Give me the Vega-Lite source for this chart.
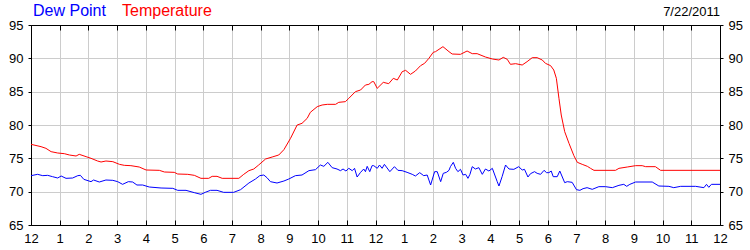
{
  "$schema": "https://vega.github.io/schema/vega-lite/v6.json",
  "width": 689,
  "height": 200,
  "autosize": "none",
  "padding": {"left": 31, "top": 25, "right": 30, "bottom": 25},
  "background": "white",
  "config": {
    "font": "Liberation Sans",
    "view": {"stroke": "black", "strokeWidth": 1},
    "axis": {"labelFontSize": 13, "labelColor": "black", "domainColor": "black", "tickColor": "black", "gridColor": "#cccccc", "gridOpacity": 1, "labelFont": "Liberation Sans"}
  },
  "title": {"text": "7/22/2011", "anchor": "end", "frame": "group", "fontSize": 13, "fontWeight": "normal", "color": "black", "font": "Liberation Sans", "offset": -16},
  "datasets": {
    "temp": [
      {"hour": 0, "value": 77.1}, {"hour": 0.35, "value": 76.75}, {"hour": 0.52, "value": 76.5}, {"hour": 0.7, "value": 76.0}, {"hour": 0.93, "value": 75.8},
      {"hour": 1.16, "value": 75.7}, {"hour": 1.34, "value": 75.5}, {"hour": 1.57, "value": 75.35}, {"hour": 1.68, "value": 75.6}, {"hour": 1.92, "value": 75.25},
      {"hour": 2.09, "value": 75.0}, {"hour": 2.32, "value": 74.6}, {"hour": 2.44, "value": 74.45}, {"hour": 2.61, "value": 74.6}, {"hour": 2.85, "value": 74.5},
      {"hour": 3.08, "value": 74.1}, {"hour": 3.25, "value": 73.95}, {"hour": 3.48, "value": 73.9}, {"hour": 3.77, "value": 73.7}, {"hour": 4.01, "value": 73.25},
      {"hour": 4.47, "value": 73.2}, {"hour": 4.65, "value": 72.95}, {"hour": 4.99, "value": 72.9}, {"hour": 5.11, "value": 72.65}, {"hour": 5.46, "value": 72.6},
      {"hour": 5.69, "value": 72.45}, {"hour": 5.92, "value": 72.0}, {"hour": 6.19, "value": 72.0}, {"hour": 6.31, "value": 72.3}, {"hour": 6.48, "value": 72.3},
      {"hour": 6.66, "value": 72.0}, {"hour": 7.24, "value": 72.0}, {"hour": 7.41, "value": 72.6}, {"hour": 7.59, "value": 73.15}, {"hour": 7.76, "value": 73.4},
      {"hour": 7.93, "value": 74.0}, {"hour": 8.17, "value": 74.9}, {"hour": 8.4, "value": 75.2}, {"hour": 8.63, "value": 75.5}, {"hour": 8.81, "value": 76.3},
      {"hour": 9.04, "value": 78.0}, {"hour": 9.27, "value": 80.0}, {"hour": 9.44, "value": 80.25}, {"hour": 9.62, "value": 81.0}, {"hour": 9.73, "value": 81.9},
      {"hour": 9.97, "value": 82.75}, {"hour": 10.14, "value": 83.0}, {"hour": 10.32, "value": 83.1}, {"hour": 10.61, "value": 83.1}, {"hour": 10.72, "value": 83.4},
      {"hour": 10.95, "value": 83.5}, {"hour": 11.07, "value": 84.0}, {"hour": 11.3, "value": 85.0}, {"hour": 11.48, "value": 85.25}, {"hour": 11.65, "value": 86.0},
      {"hour": 11.77, "value": 86.1}, {"hour": 11.88, "value": 86.5}, {"hour": 11.94, "value": 86.5}, {"hour": 12.06, "value": 85.5}, {"hour": 12.27, "value": 86.4},
      {"hour": 12.46, "value": 86.2}, {"hour": 12.62, "value": 87.0}, {"hour": 12.76, "value": 86.75}, {"hour": 12.93, "value": 88.0}, {"hour": 13.05, "value": 88.2},
      {"hour": 13.22, "value": 87.6}, {"hour": 13.39, "value": 88.1}, {"hour": 13.57, "value": 88.9}, {"hour": 13.71, "value": 89.25}, {"hour": 13.86, "value": 90.0},
      {"hour": 14.01, "value": 90.9}, {"hour": 14.09, "value": 91.0}, {"hour": 14.35, "value": 91.75}, {"hour": 14.56, "value": 91.0}, {"hour": 14.67, "value": 90.65},
      {"hour": 14.96, "value": 90.6}, {"hour": 15.19, "value": 91.1}, {"hour": 15.37, "value": 90.7}, {"hour": 15.54, "value": 90.7}, {"hour": 15.83, "value": 90.2},
      {"hour": 16.07, "value": 89.9}, {"hour": 16.3, "value": 89.75}, {"hour": 16.45, "value": 90.15}, {"hour": 16.59, "value": 89.85}, {"hour": 16.7, "value": 89.1},
      {"hour": 16.88, "value": 89.2}, {"hour": 17.11, "value": 89.0}, {"hour": 17.28, "value": 89.5}, {"hour": 17.46, "value": 90.1}, {"hour": 17.63, "value": 90.1},
      {"hour": 17.81, "value": 89.75}, {"hour": 17.92, "value": 89.25}, {"hour": 18.1, "value": 88.9}, {"hour": 18.21, "value": 88.25}, {"hour": 18.3, "value": 87.0},
      {"hour": 18.39, "value": 84.0}, {"hour": 18.47, "value": 81.5}, {"hour": 18.59, "value": 79.0}, {"hour": 18.74, "value": 77.25}, {"hour": 18.91, "value": 75.4},
      {"hour": 19.03, "value": 74.4}, {"hour": 19.2, "value": 74.1}, {"hour": 19.38, "value": 73.8}, {"hour": 19.49, "value": 73.5}, {"hour": 19.61, "value": 73.2},
      {"hour": 20.36, "value": 73.2}, {"hour": 20.48, "value": 73.5}, {"hour": 20.77, "value": 73.7}, {"hour": 21.06, "value": 73.9}, {"hour": 21.29, "value": 73.9},
      {"hour": 21.41, "value": 73.75}, {"hour": 21.75, "value": 73.75}, {"hour": 21.93, "value": 73.2}, {"hour": 24.0, "value": 73.2}
    ],
    "dew": [
      {"hour": 0, "value": 72.4}, {"hour": 0.23, "value": 72.6}, {"hour": 0.41, "value": 72.4}, {"hour": 0.58, "value": 72.45}, {"hour": 0.75, "value": 72.25},
      {"hour": 0.93, "value": 72.05}, {"hour": 1.05, "value": 72.35}, {"hour": 1.22, "value": 72.0}, {"hour": 1.45, "value": 72.05}, {"hour": 1.63, "value": 72.4},
      {"hour": 1.72, "value": 72.45}, {"hour": 1.84, "value": 71.85}, {"hour": 2.09, "value": 71.5}, {"hour": 2.18, "value": 71.75}, {"hour": 2.38, "value": 71.45},
      {"hour": 2.61, "value": 71.75}, {"hour": 2.85, "value": 71.7}, {"hour": 3.02, "value": 71.5}, {"hour": 3.19, "value": 71.1}, {"hour": 3.39, "value": 71.5},
      {"hour": 3.54, "value": 71.45}, {"hour": 3.69, "value": 71.0}, {"hour": 3.89, "value": 71.0}, {"hour": 4.12, "value": 70.7}, {"hour": 4.53, "value": 70.55},
      {"hour": 4.94, "value": 70.5}, {"hour": 5.11, "value": 70.2}, {"hour": 5.4, "value": 70.2}, {"hour": 5.69, "value": 69.85}, {"hour": 5.92, "value": 69.6},
      {"hour": 6.07, "value": 69.9}, {"hour": 6.25, "value": 70.2}, {"hour": 6.48, "value": 70.2}, {"hour": 6.71, "value": 69.9}, {"hour": 7.06, "value": 69.9},
      {"hour": 7.3, "value": 70.3}, {"hour": 7.59, "value": 71.3}, {"hour": 7.82, "value": 71.9}, {"hour": 7.97, "value": 72.4}, {"hour": 8.11, "value": 72.5},
      {"hour": 8.22, "value": 72.1}, {"hour": 8.34, "value": 71.5}, {"hour": 8.57, "value": 71.3}, {"hour": 8.81, "value": 71.6}, {"hour": 8.98, "value": 71.9},
      {"hour": 9.21, "value": 72.4}, {"hour": 9.44, "value": 72.5}, {"hour": 9.68, "value": 73.15}, {"hour": 9.91, "value": 73.3}, {"hour": 10.08, "value": 74.0},
      {"hour": 10.2, "value": 73.8}, {"hour": 10.34, "value": 74.4}, {"hour": 10.49, "value": 73.6}, {"hour": 10.66, "value": 73.4}, {"hour": 10.78, "value": 73.15},
      {"hour": 10.87, "value": 73.4}, {"hour": 10.97, "value": 73.1}, {"hour": 11.07, "value": 73.5}, {"hour": 11.19, "value": 73.15}, {"hour": 11.27, "value": 73.5},
      {"hour": 11.36, "value": 72.2}, {"hour": 11.48, "value": 72.9}, {"hour": 11.59, "value": 73.4}, {"hour": 11.65, "value": 73.0}, {"hour": 11.71, "value": 73.8},
      {"hour": 11.8, "value": 73.0}, {"hour": 11.88, "value": 73.9}, {"hour": 11.94, "value": 73.9}, {"hour": 12.06, "value": 73.5}, {"hour": 12.14, "value": 74.0},
      {"hour": 12.23, "value": 73.5}, {"hour": 12.31, "value": 74.1}, {"hour": 12.5, "value": 73.0}, {"hour": 12.66, "value": 73.75}, {"hour": 12.78, "value": 73.2},
      {"hour": 12.93, "value": 73.15}, {"hour": 13.1, "value": 72.9}, {"hour": 13.28, "value": 72.6}, {"hour": 13.39, "value": 72.35}, {"hour": 13.54, "value": 72.85},
      {"hour": 13.68, "value": 72.4}, {"hour": 13.8, "value": 72.5}, {"hour": 13.92, "value": 71.0}, {"hour": 14.06, "value": 73.0}, {"hour": 14.15, "value": 73.0},
      {"hour": 14.27, "value": 71.5}, {"hour": 14.36, "value": 72.75}, {"hour": 14.47, "value": 72.9}, {"hour": 14.56, "value": 73.2}, {"hour": 14.61, "value": 73.75},
      {"hour": 14.71, "value": 74.4}, {"hour": 14.79, "value": 73.5}, {"hour": 14.87, "value": 73.0}, {"hour": 14.96, "value": 73.35}, {"hour": 15.05, "value": 72.5},
      {"hour": 15.14, "value": 72.6}, {"hour": 15.22, "value": 72.0}, {"hour": 15.29, "value": 72.6}, {"hour": 15.37, "value": 73.75}, {"hour": 15.48, "value": 73.4},
      {"hour": 15.6, "value": 73.6}, {"hour": 15.72, "value": 72.6}, {"hour": 15.83, "value": 73.4}, {"hour": 15.95, "value": 73.1}, {"hour": 16.07, "value": 73.5},
      {"hour": 16.24, "value": 71.5}, {"hour": 16.3, "value": 70.85}, {"hour": 16.41, "value": 72.25}, {"hour": 16.53, "value": 74.0}, {"hour": 16.65, "value": 73.4},
      {"hour": 16.82, "value": 73.35}, {"hour": 16.99, "value": 73.75}, {"hour": 17.11, "value": 73.25}, {"hour": 17.19, "value": 73.35}, {"hour": 17.31, "value": 72.2},
      {"hour": 17.4, "value": 72.7}, {"hour": 17.54, "value": 73.0}, {"hour": 17.63, "value": 72.75}, {"hour": 17.75, "value": 72.6}, {"hour": 17.87, "value": 73.2},
      {"hour": 17.96, "value": 72.85}, {"hour": 18.04, "value": 72.85}, {"hour": 18.12, "value": 73.1}, {"hour": 18.19, "value": 72.25}, {"hour": 18.33, "value": 72.25},
      {"hour": 18.42, "value": 73.1}, {"hour": 18.59, "value": 71.35}, {"hour": 18.68, "value": 71.5}, {"hour": 18.85, "value": 71.4}, {"hour": 19.0, "value": 70.3},
      {"hour": 19.12, "value": 70.2}, {"hour": 19.23, "value": 70.45}, {"hour": 19.37, "value": 70.6}, {"hour": 19.55, "value": 70.35}, {"hour": 19.78, "value": 70.75},
      {"hour": 20.01, "value": 70.75}, {"hour": 20.25, "value": 70.6}, {"hour": 20.48, "value": 70.95}, {"hour": 20.65, "value": 71.1}, {"hour": 20.75, "value": 70.8},
      {"hour": 20.86, "value": 71.1}, {"hour": 21.06, "value": 71.45}, {"hour": 21.64, "value": 71.45}, {"hour": 21.87, "value": 70.85}, {"hour": 22.22, "value": 70.8},
      {"hour": 22.39, "value": 70.6}, {"hour": 22.63, "value": 70.8}, {"hour": 23.15, "value": 70.8}, {"hour": 23.44, "value": 70.6}, {"hour": 23.53, "value": 71.1},
      {"hour": 23.61, "value": 70.65}, {"hour": 23.7, "value": 71.1}, {"hour": 24.0, "value": 71.1}
    ]
  },
  "layer": [
    {
      "data": {"name": "dew"},
      "transform": [{"calculate": "'Dew Point'", "as": "series"}],
      "mark": {"type": "line", "strokeWidth": 1, "clip": true},
      "encoding": {
        "x": {"field": "hour", "type": "quantitative", "scale": {"domain": [0, 24], "nice": false},
          "axis": {"orient": "bottom", "title": null, "values": [0,1,2,3,4,5,6,7,8,9,10,11,12,13,14,15,16,17,18,19,20,21,22,23,24],
            "labelExpr": "datum.value % 12 == 0 ? '12' : '' + (datum.value % 12)", "grid": true, "tickSize": -5, "labelPadding": 12, "labelFlush": false, "labelOverlap": false}},
        "y": {"field": "value", "type": "quantitative", "scale": {"domain": [65, 95], "nice": false, "zero": false},
          "axis": {"orient": "left", "title": null, "values": [65,70,75,80,85,90,95], "grid": true, "tickSize": 3, "labelPadding": 5, "labelFlush": false}},
        "color": {"field": "series", "type": "nominal",
          "scale": {"domain": ["Dew Point", "Temperature"], "range": ["#0000ff", "#ff0000"]},
          "legend": {"orient": "none", "legendX": 2, "legendY": -22, "direction": "horizontal", "values": ["Temperature"],
            "title": "Dew Point", "titleOrient": "left", "titleFontSize": 16, "titleFontWeight": "normal", "titleColor": "#0000ff", "titleFont": "Liberation Sans", "titlePadding": 0,
            "symbolType": "stroke", "symbolSize": 0, "symbolOpacity": 0, "symbolStrokeWidth": 0,
            "labelOffset": 0, "labelFontSize": 16, "labelColor": "#ff0000", "padding": 0, "labelFont": "Liberation Sans"}}
      }
    },
    {
      "data": {"name": "temp"},
      "transform": [{"calculate": "'Temperature'", "as": "series"}],
      "mark": {"type": "line", "strokeWidth": 1, "clip": true},
      "encoding": {
        "x": {"field": "hour", "type": "quantitative", "scale": {"domain": [0, 24], "nice": false},
          "axis": {"orient": "top", "title": null, "values": [0,1,2,3,4,5,6,7,8,9,10,11,12,13,14,15,16,17,18,19,20,21,22,23,24], "labels": false, "grid": false, "tickSize": -5}},
        "y": {"field": "value", "type": "quantitative", "scale": {"domain": [65, 95], "nice": false, "zero": false},
          "axis": {"orient": "right", "title": null, "values": [65,70,75,80,85,90,95], "grid": false, "tickSize": 3, "labelPadding": 5, "labelFlush": false}},
        "color": {"field": "series", "type": "nominal"}
      }
    }
  ],
  "resolve": {"axis": {"x": "independent", "y": "independent"}}
}
